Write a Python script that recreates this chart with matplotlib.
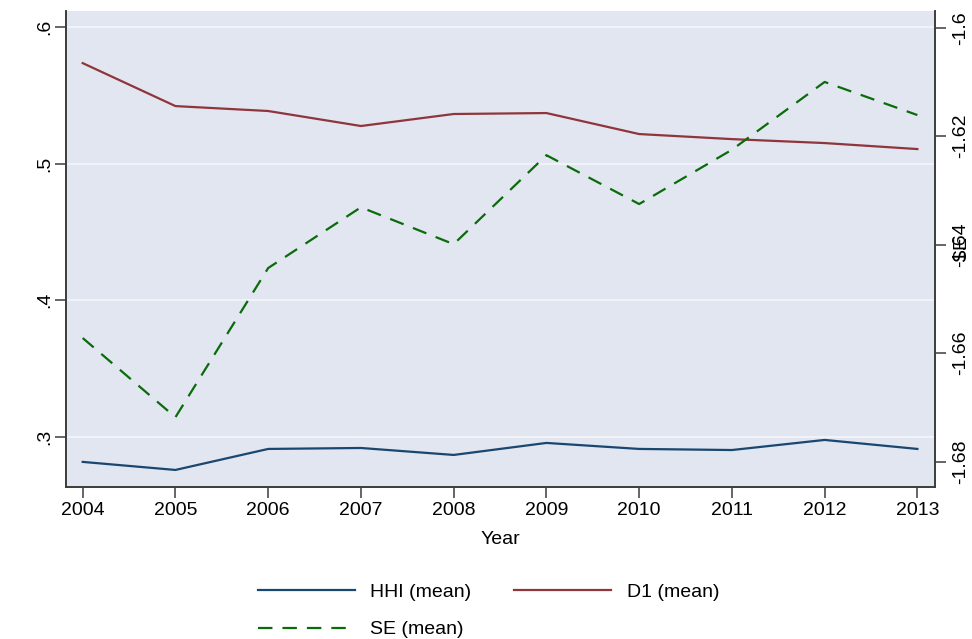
import matplotlib
matplotlib.use("Agg")
import matplotlib.pyplot as plt

plt.rcParams["font.family"] = ["Liberation Sans", "DejaVu Sans"]

years = [2004, 2005, 2006, 2007, 2008, 2009, 2010, 2011, 2012, 2013]
hhi = [0.2815, 0.2756, 0.2910, 0.2917, 0.2866, 0.2954, 0.2910, 0.2902, 0.2976, 0.2910]
d1 = [0.5738, 0.5423, 0.5387, 0.5277, 0.5365, 0.5372, 0.5218, 0.5181, 0.5152, 0.5108]
se = [-1.6572, -1.6718, -1.6443, -1.6331, -1.6399, -1.6235, -1.6325, -1.6225, -1.6100, -1.6161]

left_ticks = [0.3, 0.4, 0.5, 0.6]
left_labels = [".3", ".4", ".5", ".6"]
right_ticks = [-1.68, -1.66, -1.64, -1.62, -1.60]
right_labels = ["-1.68", "-1.66", "-1.64", "-1.62", "-1.6"]

NAVY, MAROON, GREEN = "#1a476f", "#90353b", "#0a6b0a"
AXC = "#3c3c3c"
FS = 14

fig = plt.figure(figsize=(9.72, 6.39), dpi=100)
ax = fig.add_axes([66 / 972, 1 - 487 / 639, (935 - 66) / 972, (487 - 11) / 639])
ax.set_facecolor("#e1e6f0")
ax2 = ax.twinx()

l_hhi, = ax.plot(years, hhi, color=NAVY, lw=1.6, label="HHI (mean)")
l_d1, = ax.plot(years, d1, color=MAROON, lw=1.6, label="D1 (mean)")
l_se, = ax2.plot(years, se, color=GREEN, lw=1.6, dashes=(6.5, 4.5), label="SE (mean)")

ax.set_xlim(2003.82, 2013.19)
ax.set_ylim(0.2631, 0.612)
ax2.set_ylim(-1.68466, -1.59692)

ax.set_xticks(years)
ax.set_xticklabels([str(y) for y in years], fontsize=FS)
ax.set_yticks(left_ticks)
ax.set_yticklabels(left_labels, fontsize=FS, rotation=90, va="center")
ax2.set_yticks(right_ticks)
ax2.set_yticklabels(right_labels, fontsize=FS, rotation=90, va="center")

for a in (ax, ax2):
    a.spines["top"].set_visible(False)
    for s in ("left", "right", "bottom"):
        a.spines[s].set_color(AXC)
        a.spines[s].set_linewidth(1.2)
ax.tick_params(axis="both", length=8, width=1.1, color=AXC, pad=3)
ax.tick_params(axis="y", pad=1)
ax2.tick_params(axis="y", length=8, width=1.1, color=AXC, pad=4)

ax.yaxis.grid(True, color="#f4f6fa", lw=1.2)
ax.set_axisbelow(True)

ax.set_xlabel("Year", fontsize=FS)
ax.xaxis.set_label_coords(0.5, -0.092)
# right-hand title sits on top of the middle tick label
ax2.set_ylabel("SE", fontsize=FS, rotation=90, va="center", ha="center")
ax2.yaxis.set_label_coords(1.031, 0.5)

fig.legend(handles=[l_hhi, l_se, l_d1], loc="center", ncol=2,
           bbox_to_anchor=(488.5 / 972, 1 - 611 / 639), frameon=False,
           fontsize=FS, handlelength=5.0, handletextpad=0.8,
           columnspacing=2.2, labelspacing=1.0)

fig.savefig("out.png", dpi=100)
